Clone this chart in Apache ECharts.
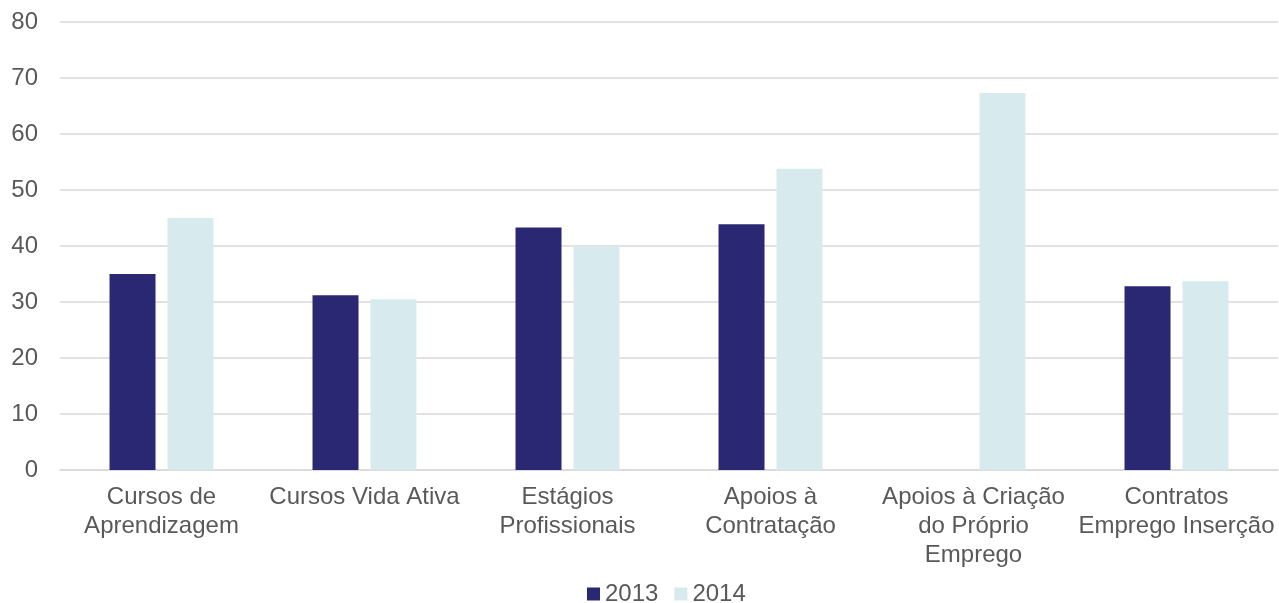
<!DOCTYPE html>
<html>
<head>
<meta charset="utf-8">
<script src="https://cdn.jsdelivr.net/npm/echarts@6/dist/echarts.min.js"></script>
<style>
  html, body { margin: 0; padding: 0; background: #fff; }
  #chart { width: 1279px; height: 603px; }
</style>
</head>
<body>
<div id="chart"></div>
<script>
// categorias (quebras de linha como no original)
const categories = [
  'Cursos de\nAprendizagem',
  'Cursos Vida Ativa',
  'Estágios\nProfissionais',
  'Apoios à\nContratação',
  'Apoios à Criação\ndo Próprio\nEmprego',
  'Contratos\nEmprego Inserção'
];
const values2013 = [35.0, 31.2, 43.3, 43.9, '-', 32.8];
const values2014 = [45.0, 30.5, 40.0, 53.8, 67.3, 33.7];
const yTicks = { min: 0, max: 80, interval: 10 };

const textColor = '#595959';
const fontFamily = '"Liberation Sans", Arial, sans-serif';

const myChart = echarts.init(document.getElementById('chart'));
myChart.setOption({
  animation: false,
  textStyle: { fontFamily: fontFamily },
  grid: { left: 60, right: 1, top: 22, bottom: 133, containLabel: false },
  legend: {
    left: 582,
    top: 577,
    itemWidth: 13,
    itemHeight: 13,
    itemGap: 16,
    icon: 'rect',
    textStyle: { color: textColor, fontSize: 24, fontFamily: fontFamily, padding: [0, 0, 0, 0] },
    data: ['2013', '2014']
  },
  xAxis: {
    type: 'category',
    data: categories,
    axisLine: { lineStyle: { color: '#d9d9d9', width: 1.5 } },
    axisTick: { show: false },
    axisLabel: {
      color: textColor,
      fontSize: 24,
      lineHeight: 29,
      margin: 13,
      interval: 0
    }
  },
  yAxis: {
    type: 'value',
    min: yTicks.min,
    max: yTicks.max,
    interval: yTicks.interval,
    axisLine: { show: false },
    axisTick: { show: false },
    splitLine: { lineStyle: { color: '#d9d9d9', width: 1.5 } },
    axisLabel: { color: textColor, fontSize: 24, margin: 22 }
  },
  series: [
    {
      name: '2013',
      type: 'bar',
      data: values2013,
      barWidth: 46,
      barGap: '26%',
      itemStyle: { color: '#2a2873' }
    },
    {
      name: '2014',
      type: 'bar',
      data: values2014,
      barWidth: 46,
      itemStyle: { color: '#d7ebee' }
    }
  ]
});
</script>
</body>
</html>
